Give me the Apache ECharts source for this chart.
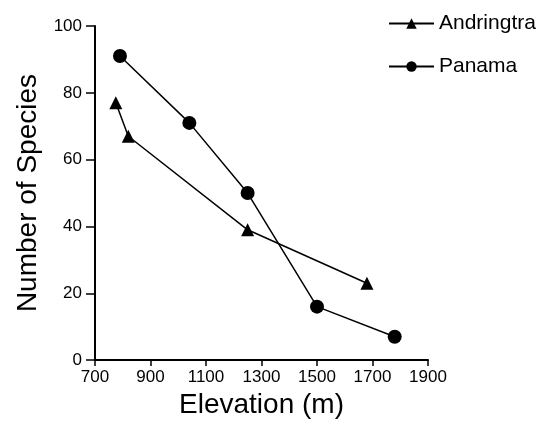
<!DOCTYPE html>
<html>
<head>
<meta charset="utf-8">
<script src="https://cdn.jsdelivr.net/npm/echarts@6/dist/echarts.min.js"></script>
<style>html,body{margin:0;padding:0;background:#fff;}#c{width:544px;height:424px;}</style>
</head>
<body>
<div id="c"></div>
<script>
var andringtraElev = [775, 820, 1250, 1680];
var andringtraSpecies = [77, 67, 39, 23];
var panamaElev = [790, 1040, 1250, 1500, 1780];
var panamaSpecies = [91, 71, 50, 16, 7];
var xTicks = [700, 900, 1100, 1300, 1500, 1700, 1900];
var yTicks = [0, 20, 40, 60, 80, 100];

function pairs(xs, ys) { return xs.map(function (x, i) { return [x, ys[i]]; }); }

var font = 'Liberation Sans, Arial, Helvetica, sans-serif';
var chart = echarts.init(document.getElementById('c'), null, { renderer: 'canvas' });
chart.setOption({
  backgroundColor: '#fff',
  animation: false,
  grid: { left: 95, right: 116, top: 26, bottom: 62 },
  legend: {
    orient: 'vertical',
    left: 383,
    top: 8,
    itemWidth: 45,
    itemHeight: 13,
    itemGap: 22,
    textStyle: { fontFamily: font, fontSize: 21, color: '#000' },
    data: ['Andringtra', 'Panama']
  },
  xAxis: {
    type: 'value',
    min: 700,
    max: 1900,
    name: 'Elevation (m)',
    nameLocation: 'middle',
    nameGap: 30,
    nameTextStyle: { fontFamily: font, fontSize: 28, color: '#000' },
    axisLine: { lineStyle: { color: '#000', width: 2 } },
    axisTick: { show: true, customValues: xTicks, length: 6, lineStyle: { color: '#000', width: 1.5 } },
    axisLabel: {
      customValues: xTicks, fontFamily: font, fontSize: 17, color: '#000', margin: 9,
      formatter: function (v) { return String(v); }
    },
    splitLine: { show: false }
  },
  yAxis: {
    type: 'value',
    min: 0,
    max: 100,
    interval: 20,
    name: 'Number of Species',
    nameLocation: 'middle',
    nameGap: 50,
    nameTextStyle: { fontFamily: font, fontSize: 28, color: '#000' },
    axisLine: { show: true, lineStyle: { color: '#000', width: 2 } },
    axisTick: { show: true, length: 9, lineStyle: { color: '#000', width: 1.5 } },
    axisLabel: { fontFamily: font, fontSize: 17, color: '#000', margin: 13,
      formatter: function (v) { return String(v); } },
    splitLine: { show: false }
  },
  series: [
    {
      name: 'Andringtra',
      type: 'line',
      data: pairs(andringtraElev, andringtraSpecies),
      symbol: 'triangle',
      symbolSize: 13,
      itemStyle: { color: '#000' },
      lineStyle: { color: '#000', width: 1.5 }
    },
    {
      name: 'Panama',
      type: 'line',
      data: pairs(panamaElev, panamaSpecies),
      symbol: 'circle',
      symbolSize: 14,
      itemStyle: { color: '#000' },
      lineStyle: { color: '#000', width: 1.5 }
    }
  ]
});
</script>
</body>
</html>
